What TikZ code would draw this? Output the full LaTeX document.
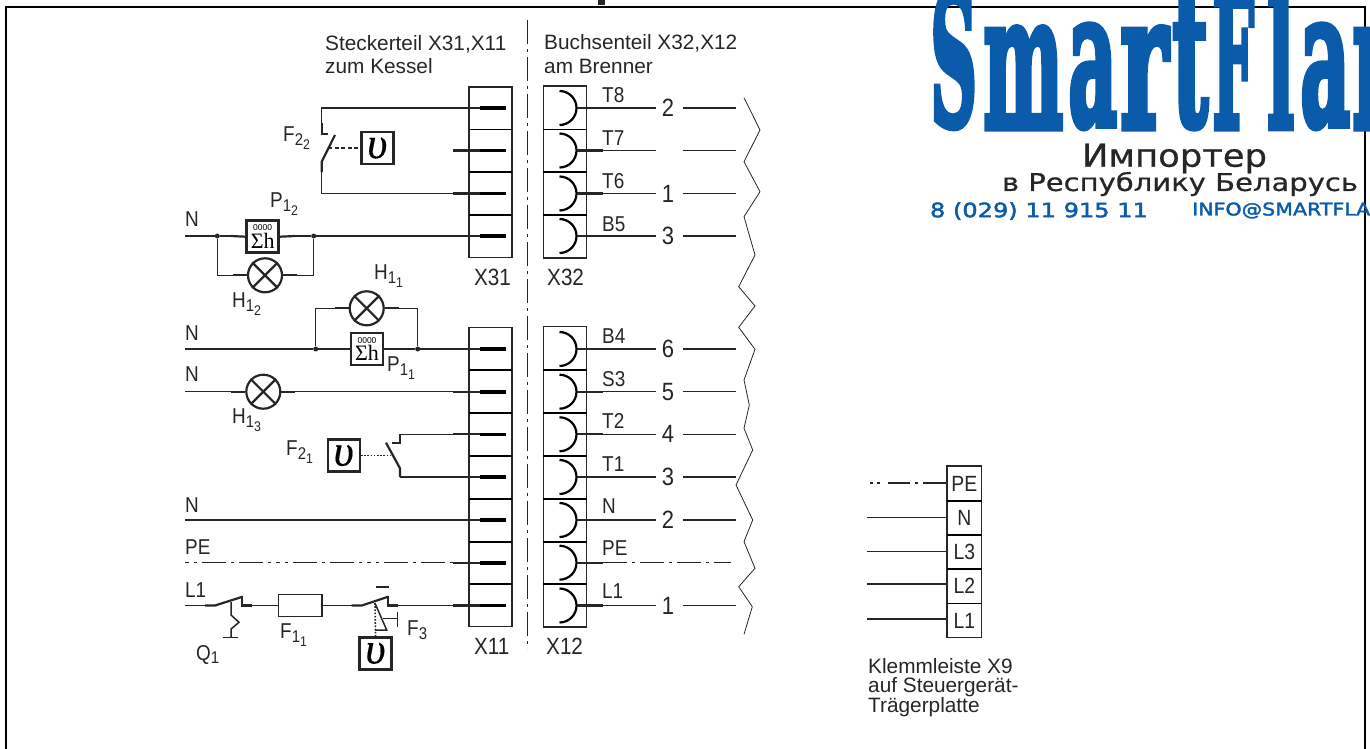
\documentclass[tikz,border=0pt]{standalone}
\usepackage{fontspec}
\setmainfont{Liberation Sans}
\newfontfamily\logofont[FakeBold=4]{DejaVu Serif}
\newfontfamily\widefont[FakeBold=0.6]{DejaVu Sans}
\newfontfamily\bluefont[FakeBold=2]{DejaVu Sans}
\newfontfamily\lblfont[FakeStretch=0.88]{Liberation Sans}
\newfontfamily\vfont[FakeBold=0.3]{Liberation Serif}
\newfontfamily\sigfont{Liberation Serif}
\usepackage{graphicx}
\definecolor{ink}{HTML}{262626}
\definecolor{logoblue}{HTML}{0A5CAB}
\newcommand{\fs}[1]{\fontsize{#1}{#1}\selectfont}
\newcommand{\dlab}[3]{#1\raisebox{-3.5pt}{\fs{17}#2\raisebox{-4pt}{\fs{14}#3}}}
\newcommand{\slab}[2]{#1\raisebox{-3.5pt}{\fs{17}#2}}
\newcommand{\upsi}{{\vfont\itshape\fs{44}υ}}
\tikzset{
  x=1pt,y=-1pt,
  wire/.style={draw=ink,line width=1.5pt},
  stub/.style={draw=ink,line width=2.2pt},
  pinh/.style={draw=black,line width=3.6pt},
  box/.style={draw=ink,line width=1.4pt},
  sep/.style={draw=black,line width=1.6pt},
  dashdot/.style={draw=ink,line width=1.5pt,dash pattern=on 24pt off 5pt on 3pt off 5pt},
  zig/.style={draw=ink,line width=.8pt},
  lbl/.style={font=\lblfont\fs{21.5},text=ink,inner sep=0pt,anchor=west},
  striplbl/.style={font=\lblfont\fs{23.5},text=ink,inner sep=0pt,anchor=west},
  hdr/.style={font=\fs{20.8},text=ink,inner sep=0pt,anchor=west,align=left},
  lampc/.style={circle,draw=ink,line width=2.2pt,minimum size=34pt,inner sep=0pt},
  vbox/.style={draw=ink,line width=2.4pt,minimum width=32pt,minimum height=32pt,inner sep=0pt},
  cnt/.style={draw=ink,line width=2.6pt,minimum width=32pt,minimum height=32pt,inner sep=0pt,align=center},
  dot/.style={circle,fill=ink,minimum size=5pt,inner sep=0pt},
}
\newcommand{\logoletter}[5]{% x, width, top y, letter, name
  \node[inner sep=0pt,anchor=south west,text=logoblue] (#5) at (#1,128) {\resizebox{#2pt}{#3pt}{\logofont\bfseries #4}};}
\newcommand{\counterface}{\parbox{30pt}{\centering\fs{8.5}0000\\[1.5pt]{\sigfont\fs{22}Σh}}}
\begin{document}
\begin{tikzpicture}
\useasboundingbox (0,0) rectangle (1370,749);
\begin{scope}
\clip (0,0) rectangle (1370,749);
% frame
\draw[black,line width=2pt] (6,749) -- (6,7.5) -- (1365,7.5) -- (1365,749);
\fill[ink] (598,0) rectangle (605,5);
% logo
\logoletter{930}{47}{135}{S}{lS}
\logoletter{983}{80}{100}{m}{lm}
\logoletter{1068}{49}{100}{a}{la}
\logoletter{1120}{48}{100}{r}{lr}
\logoletter{1172}{36}{130}{t}{lt}
\logoletter{1212}{42}{135}{F}{lF}
\logoletter{1267}{27}{135}{l}{ll}
\logoletter{1300}{50}{100}{a}{lb}
\logoletter{1352}{80}{100}{m}{ln}
\node[inner sep=0pt,text=ink] (imp) at (1174.5,158.5) {\resizebox{185pt}{23pt}{\widefont Импортер}};
\node[inner sep=0pt,text=ink] (rep) at (1180,184) {\resizebox{356pt}{19pt}{\widefont в Республику Беларусь}};
\node[inner sep=0pt,text=logoblue] (tel) at (1039,211) {\resizebox{218pt}{15pt}{\bluefont 8 (029) 11 915 11}};
\node[inner sep=0pt,anchor=west,text=logoblue] (mail) at (1192,210.5) {\resizebox{178pt}{13pt}{\bluefont INFO@SMARTFLA}};
\end{scope}
% headers
\node[hdr] (h1) at (325,44.5) {Steckerteil X31,X11};
\node[hdr] (h2) at (325,66) {zum Kessel};
\node[hdr] (h3) at (544,43.5) {Buchsenteil X32,X12};
\node[hdr] (h4) at (544,66) {am Brenner};
% centre line
\coordinate (ca) at (527.5,20); \coordinate (cb) at (527.5,649);
\draw[dashdot] (ca) -- (cb);
% plug strips
\draw[box] (469,87) rectangle (512,257.7);
\draw[box] (469,327.3) rectangle (512,626.7);
\draw[box] (543.3,86) rectangle (586.7,258);
\draw[box] (543.3,326.7) rectangle (586.7,627);
\foreach \yy in {129.5,172,215,370,412.7,456,499,541.7,584}{
  \draw[sep] (469,\yy) -- (512,\yy);
  \draw[sep] (543.3,\yy) -- (586.7,\yy);
}
% plug pins
\foreach \yy in {108,150.5,193.5,236,349,391.7,434.3,477,520,562.7,605.5}{
  \draw[stub] (453,\yy) -- (480,\yy);
  \draw[pinh] (480,\yy) -- (506,\yy);
}
% sockets
\foreach \yy in {108,150.5,193.5,236,349,391.7,434.3,477,520,562.7,605.5}{
  \draw[draw=black,line width=2.2pt] (559.5,\yy+17) arc[start angle=90,end angle=-90,radius=17];
  \draw[stub] (576.5,\yy) -- (603,\yy);
}
% socket side wires
\foreach \yy/\nn in {108/2,193.5/1,236/3,349/6,391.7/5,434.3/4,477/3,520/2,605.5/1}{
  \draw[wire] (603,\yy) -- (656,\yy);
  \draw[wire] (683,\yy) -- (736,\yy);
  \node[font=\lblfont\fs{25},text=ink,inner sep=0pt] at (668,\yy) {\nn};
}
\draw[wire] (603,150.5) -- (656,150.5);
\draw[wire] (683,150.5) -- (736,150.5);
\coordinate (pea) at (603,562.7); \coordinate (peb) at (731,562.7);
\draw[dashdot] (pea) -- (peb);
% socket labels
\foreach \yy/\tt in {95/T8,138/T7,181/T6,224/B5,336/B4,379/S3,421/T2,464/T1,506/N,548/PE,591/L1}{
  \node[lbl] at (602,\yy) {\tt};
}
% zigzag
\draw[zig] (744,97.7) -- (760,130) -- (744,161.7) -- (760,191.7) -- (744,216.7) -- (755,255) -- (738.7,286.7) -- (755,306) -- (738.7,327.3) -- (755,349.3) -- (744,380) -- (749.3,405) -- (744,428.3) -- (752.7,450) -- (736,485) -- (752.7,520) -- (744,541.7) -- (755,568.3) -- (738.7,586.7) -- (752.3,606.7) -- (744,634.3);
% strip labels
\node[striplbl] at (474,277) {X31};
\node[striplbl] at (547,277) {X32};
\node[striplbl] at (474,646) {X11};
\node[striplbl] at (546,646) {X12};
% F22
\coordinate (f2a) at (453,108); \coordinate (f2b) at (453,193.5);
\draw[wire] (f2a) -- (321.7,108) -- (321.7,123);
\draw[stub] (321.7,123) -- (321.7,134) -- (328.3,134);
\draw[stub] (335,135) -- (321.7,161.7) -- (321.7,172);
\draw[wire] (321.7,172) -- (321.7,193.5) -- (f2b);
\node[vbox] (v1) at (377.3,148) {\upsi};
\coordinate (f2m) at (328,148);
\draw[draw=ink,line width=1.5pt,dash pattern=on 4pt off 2.5pt] (f2m) -- (v1.west);
\node[lbl] at (283,138) {\dlab{F}{2}{2}};
% P12 row
\node[cnt] (p2) at (262.7,236.7) {\counterface};
\node[lampc] (l2) at (265,275.3) {};
\draw[ink,line width=2.2pt] (l2.45) -- (l2.225) (l2.135) -- (l2.315);
\node[dot] (d1) at (217.3,236) {};
\node[dot] (d2) at (313.7,236) {};
\coordinate (na) at (185,236); \coordinate (nb) at (453,236);
\draw[wire] (na) -- (d1) -- (231,236);
\draw[stub] (231,236) -- (p2.west);
\draw[stub] (p2.east) -- (295,236);
\draw[wire] (295,236) -- (d2) -- (nb);
\draw[wire] (d1) -- (217.3,275.3) -- (233,275.3);
\draw[stub] (233,275.3) -- (l2.west);
\draw[stub] (l2.east) -- (297,275.3);
\draw[wire] (297,275.3) -- (313.7,275.3) -- (d2);
\node[lbl] at (185,219.5) {N};
\node[lbl] at (270,204) {\dlab{P}{1}{2}};
\node[lbl] at (232,304) {\dlab{H}{1}{2}};
% P11 row
\node[cnt] (p1) at (367,349) {\counterface};
\node[lampc] (l1) at (366.7,308.3) {};
\draw[ink,line width=2.2pt] (l1.45) -- (l1.225) (l1.135) -- (l1.315);
\node[dot] (d3) at (315.7,349) {};
\node[dot] (d4) at (417.7,349) {};
\coordinate (nc) at (185,349); \coordinate (nd) at (453,349);
\draw[wire] (nc) -- (d3) -- (335,349);
\draw[stub] (335,349) -- (p1.west);
\draw[stub] (p1.east) -- (399,349);
\draw[wire] (399,349) -- (d4) -- (nd);
\draw[wire] (d3) -- (315.7,308.3) -- (335,308.3);
\draw[stub] (335,308.3) -- (l1.west);
\draw[stub] (l1.east) -- (399,308.3);
\draw[wire] (399,308.3) -- (417.7,308.3) -- (d4);
\node[lbl] at (185,333) {N};
\node[lbl] at (374,276) {\dlab{H}{1}{1}};
\node[lbl] at (387,368) {\dlab{P}{1}{1}};
% H13 row
\node[lampc] (l3) at (263.3,391.7) {};
\draw[ink,line width=2.2pt] (l3.45) -- (l3.225) (l3.135) -- (l3.315);
\coordinate (ne) at (185,391.7); \coordinate (nf) at (453,391.7);
\draw[wire] (ne) -- (231,391.7);
\draw[stub] (231,391.7) -- (l3.west);
\draw[stub] (l3.east) -- (295,391.7);
\draw[wire] (295,391.7) -- (nf);
\node[lbl] at (185,374) {N};
\node[lbl] at (232,420) {\dlab{H}{1}{3}};
% F21
\coordinate (g1) at (453,434.3); \coordinate (g2) at (453,477);
\draw[wire] (g1) -- (400,434.3);
\draw[stub] (400,434.3) -- (400,442.7) -- (391.7,442.7);
\draw[stub] (386,442.7) -- (400,468.3) -- (400,477);
\draw[wire] (400,477) -- (g2);
\node[vbox] (v2) at (343.7,455.5) {\upsi};
\coordinate (g3) at (391,455.5);
\draw[draw=ink,line width=1.6pt,dash pattern=on 1.6pt off 1.6pt] (v2.east) -- (g3);
\node[lbl] at (286,452) {\dlab{F}{2}{1}};
% N / PE
\coordinate (ng) at (185,520); \coordinate (nh) at (453,520);
\draw[wire] (ng) -- (nh);
\node[lbl] at (185,505) {N};
\coordinate (pec) at (185,562.7); \coordinate (ped) at (453,562.7);
\draw[draw=ink,line width=1.5pt,dash pattern=on 4pt off 5pt on 3pt off 5pt on 24pt off 5pt on 3pt off 5pt on 24pt off 5pt on 3pt off 5pt] (pec) -- (ped);
\node[lbl] at (185,547.5) {PE};
% L1
\coordinate (la) at (185,605.5); \coordinate (lz) at (453,605.5);
\draw[wire] (la) -- (205,605.5);
\draw[stub] (205,605.5) -- (215,605.5) -- (242.7,596.7);
\draw[stub] (241.7,596) -- (241.7,605.5) -- (251.7,605.5);
\node[draw=ink,line width=1.5pt,minimum width=43.7pt,minimum height=22.4pt,inner sep=0pt] (fu) at (300.2,605.5) {};
\draw[wire] (251.7,605.5) -- (fu.west);
\draw[wire] (fu.east) -- (351.7,605.5);
\draw[stub] (351.7,605.5) -- (361.7,605.5) -- (388.3,596.7);
\draw[stub] (388.3,596) -- (388.3,605.5) -- (398.3,605.5);
\draw[wire] (398.3,605.5) -- (lz);
\draw[stub] (375.7,587) -- (389,587);
% Q1
\draw[wire] (231,602) -- (231,615) -- (239,622.3) -- (231,629) -- (231,637.3);
\draw[wire] (223.3,637.3) -- (238.3,637.3);
% F3 mechanism
\node[vbox] (v3) at (375.5,653.3) {\upsi};
\draw[draw=ink,line width=1.6pt,dash pattern=on 1.6pt off 1.6pt] (375,603) -- (v3.north);
\draw[wire] (375,603.3) -- (386.7,630) -- (375,630);
\draw[wire] (383.3,618.3) -- (397.3,618.3);
\draw[wire] (397.3,611.7) -- (397.3,626.7);
% other labels
\node[lbl] at (185,590) {L1};
\node[lbl] at (280,635) {\dlab{F}{1}{1}};
\node[lbl] at (196,655) {\slab{Q}{1}};
\node[lbl] at (407,630) {\slab{F}{3}};
% X9
\draw[box] (947,466) rectangle (981.7,637.7);
\foreach \yy in {500.7,535,568.7,603.3}{\draw[sep] (947,\yy) -- (981.7,\yy);}
\foreach \yy/\tt in {483.5/PE,518/N,552/L3,586/L2,620.5/L1}{
  \node[font=\lblfont\fs{22},text=ink,inner sep=0pt] at (964.3,\yy) {\tt};
}
\draw[draw=ink,line width=1.5pt,dash pattern=on 24pt off 5pt on 3pt off 5pt on 22pt off 8pt on 3pt off 4pt on 3pt off 10pt] (947,483) -- (867,483);
\foreach \yy in {517.3,551.7,584,619}{\draw[wire] (867,\yy) -- (947,\yy);}
\node[hdr] at (868,666) {Klemmleiste X9};
\node[hdr] at (868,687) {auf Steuergerät-};
\node[hdr] at (868,707) {Trägerplatte};
\end{tikzpicture}
\end{document}
